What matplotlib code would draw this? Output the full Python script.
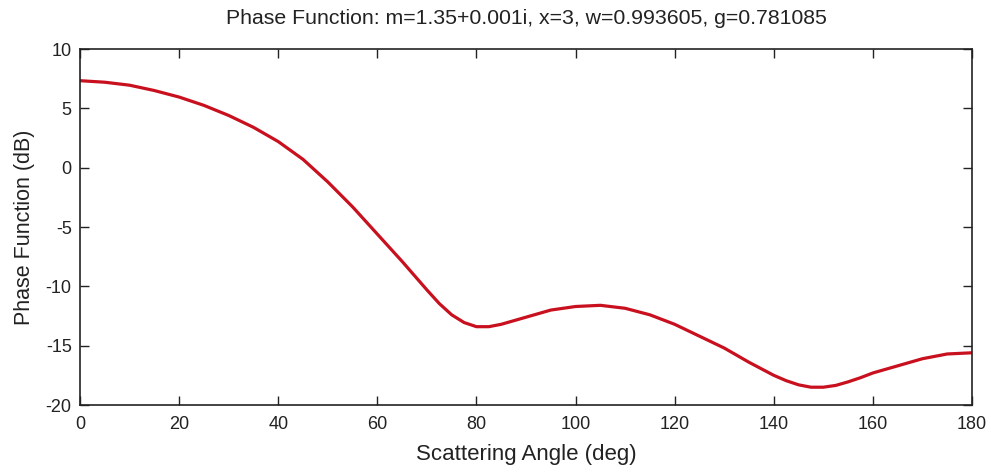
import numpy as np
import matplotlib
matplotlib.use("Agg")
import matplotlib.pyplot as plt

# Scattering angle (deg) and phase function (dB)
angle_deg = [0, 5, 10, 15, 20, 25, 30, 35, 40, 45, 50, 55, 60, 65, 70, 72.5,
             75, 77.5, 80, 82.5, 85, 87.5, 90, 95, 100, 105, 110, 115, 120,
             125, 130, 135, 140, 142.5, 145, 147.5, 150, 152.5, 155, 157.5,
             160, 165, 170, 175, 180]
phase_db = [7.33, 7.2, 6.95, 6.5, 5.95, 5.25, 4.4, 3.4, 2.2, 0.7, -1.2, -3.3,
            -5.6, -7.9, -10.3, -11.45, -12.4, -13.05, -13.4, -13.4, -13.2,
            -12.9, -12.6, -12.0, -11.7, -11.6, -11.85, -12.4, -13.2, -14.2,
            -15.2, -16.4, -17.5, -17.95, -18.3, -18.5, -18.5, -18.35, -18.05,
            -17.7, -17.3, -16.7, -16.1, -15.7, -15.6]

xticks = [0, 20, 40, 60, 80, 100, 120, 140, 160, 180]
yticks = [-20, -15, -10, -5, 0, 5, 10]

title_text = "Phase Function: m=1.35+0.001i, x=3, w=0.993605, g=0.781085"

plt.rcParams['font.family'] = ['Liberation Sans', 'DejaVu Sans']
plt.rcParams['axes.unicode_minus'] = False

fig = plt.figure(figsize=(9.91, 4.72), dpi=100)
ax = fig.add_axes([80 / 991, 1 - 405 / 472, (972 - 80) / 991, (405 - 49) / 472])

ax.plot(angle_deg, phase_db, color='#c8101e', lw=2.3, solid_capstyle='round',
        solid_joinstyle='round')

ax.set_xlim(0, 180)
ax.set_ylim(-20, 10)
ax.set_xticks(xticks)
ax.set_yticks(yticks)
ax.tick_params(direction='in', length=6.5, width=1.0, top=True, right=True,
               labelsize=13, colors='#222222')
ax.tick_params(axis='x', pad=8)
ax.tick_params(axis='y', pad=6)
for s in ax.spines.values():
    s.set_linewidth(1.2)
    s.set_color('#222222')

ax.set_title(title_text, fontsize=15.3, color='#222222', pad=18)
ax.set_xlabel("Scattering Angle (deg)", fontsize=16, color='#222222', labelpad=8)
ax.set_ylabel("Phase Function (dB)", fontsize=15.5, color='#222222', labelpad=8)

fig.savefig("out.png", dpi=100, facecolor='white')
